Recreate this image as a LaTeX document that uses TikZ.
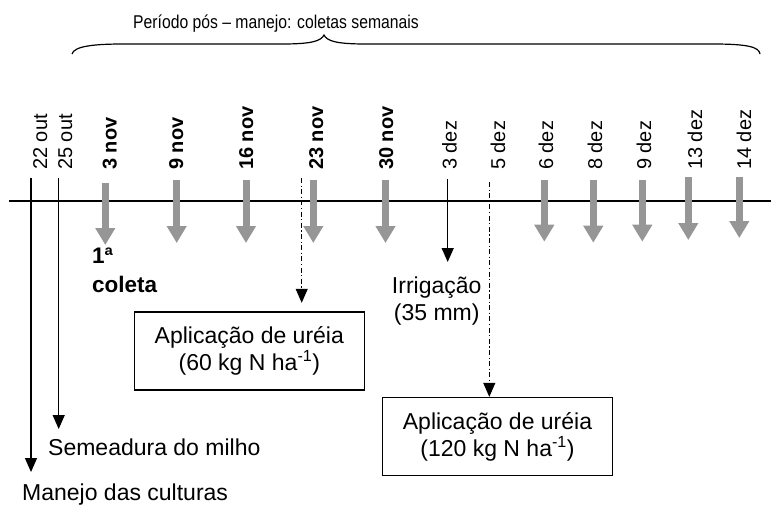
\documentclass[tikz,border=0pt]{standalone}
\usepackage{fontspec}
\setmainfont{Liberation Sans}
\newfontfamily\condfont[FakeStretch=0.85]{Liberation Sans}
\usetikzlibrary{arrows.meta}
\definecolor{arrowgray}{RGB}{150,150,150}
\tikzset{
  datelbl/.style={rotate=90, anchor=base west, inner sep=0pt, font=\fontsize{20}{24}\selectfont},
  datebold/.style={datelbl, font=\fontsize{20}{24}\selectfont\bfseries},
  lbl/.style={inner sep=0pt, font=\fontsize{23}{27}\selectfont},
  boldlbl/.style={inner sep=0pt, font=\fontsize{22.5}{27}\selectfont\bfseries},
  grayarrow/.style={draw=arrowgray, line width=7pt, -{Triangle[width=19pt,length=17pt]}},
  blackarrow/.style={line width=1.3pt, -{Triangle[width=12pt,length=14pt]}},
  dashdotarrow/.style={line width=1pt, dash pattern=on 5pt off 2.5pt on 1.2pt off 2.5pt, -{Triangle[width=12pt,length=14pt]}},
  ureiabox/.style={draw, line width=1.3pt, minimum width=230pt, minimum height=78pt, align=center, inner sep=0pt, font=\fontsize{23}{27}\selectfont},
  axisline/.style={line width=1.3pt}
}
\begin{document}
\begin{tikzpicture}[x=1pt,y=-1pt]
\useasboundingbox (0,0) rectangle (771,507);

% title and brace
\node[anchor=base, inner sep=0pt, font=\condfont\fontsize{18.5}{22}\selectfont] (title) at (276,28.3) {Período pós – manejo: coletas semanais};
\draw[line width=1.2pt] (72,54) .. controls (74,46) and (95,44) .. (123,44) -- (282,44)
  .. controls (312,44) and (321,41) .. (324,35)
  .. controls (327,41) and (336,44) .. (366,44) -- (713,44)
  .. controls (748,44) and (759,47) .. (760,54);

% timeline
\coordinate (tl-l) at (9,201);
\coordinate (tl-r) at (771,201);
\draw[axisline] (tl-l) -- (tl-r);

% date labels
\node[datelbl] (d22out) at (47,170) {22 out};
\node[datelbl] (d25out) at (72,170) {25 out};
\node[datebold] (d3nov) at (116.7,170) {3 nov};
\node[datebold] (d9nov) at (183,170) {9 nov};
\node[datebold] (d16nov) at (253,170) {16 nov};
\node[datebold] (d23nov) at (323,170) {23 nov};
\node[datebold] (d30nov) at (393,170) {30 nov};
\node[datelbl] (d3dez) at (456.7,170) {3 dez};
\node[datelbl] (d5dez) at (505,170) {5 dez};
\node[datelbl] (d6dez) at (553,170) {6 dez};
\node[datelbl] (d8dez) at (602,170) {8 dez};
\node[datelbl] (d9dez) at (651,170) {9 dez};
\node[datelbl] (d13dez) at (702,170) {13 dez};
\node[datelbl] (d14dez) at (751,170) {14 dez};

% gray collection arrows
\foreach \n/\x/\t/\b in {a/105.3/183/245, b/176.7/180/243, c/246/180/243, d/313.3/180/243, e/385.5/180/243,
  f/544.3/180/241.7, g/593.3/180/242.7, h/642.3/180/241.7, i/688.3/177/240, j/739.3/177/238}{
  \coordinate (g\n-top) at (\x,\t);
  \coordinate (g\n-tip) at (\x,\b);
  \draw[grayarrow] (g\n-top) -- (g\n-tip);
}

% text labels
\node[boldlbl, anchor=base west] (col1) at (92,263) {1ª};
\node[boldlbl, anchor=base west] (col2) at (92,292) {coleta};
\node[lbl, anchor=base] (irr1) at (436.7,293) {Irrigação};
\node[lbl, anchor=base] (irr2) at (436.7,320) {(35 mm)};
\node[lbl, anchor=base west] (semea) at (48,455) {Semeadura do milho};
\node[lbl, anchor=base west] (manejo) at (22,500) {Manejo das culturas};

% boxes
\node[ureiabox] (ureia1) at (249.3,350.85) {Aplicação de uréia\\(60 kg N ha\textsuperscript{-1})};
\node[ureiabox] (ureia2) at (497.5,436.5) {Aplicação de uréia\\(120 kg N ha\textsuperscript{-1})};

% black arrows
\coordinate (v22-top) at (31,178);
\coordinate (v22-tip) at (31,472);
\draw[blackarrow] (v22-top) -- (v22-tip);
\coordinate (v25-top) at (58.7,178);
\coordinate (v25-tip) at (58.7,429);
\draw[blackarrow] (v25-top) -- (v25-tip);
\coordinate (irr-top) at (447.7,179);
\coordinate (irr-tip) at (447.7,262);
\draw[blackarrow] (irr-top) -- (irr-tip);

% dash-dot arrows
\coordinate (dd1-top) at (301.7,178);
\draw[dashdotarrow, shorten >=8.4pt] (dd1-top) -- (dd1-top |- ureia1.north);
\coordinate (dd2-top) at (489.3,182);
\draw[dashdotarrow] (dd2-top) -- (dd2-top |- ureia2.north);
\end{tikzpicture}
\end{document}
